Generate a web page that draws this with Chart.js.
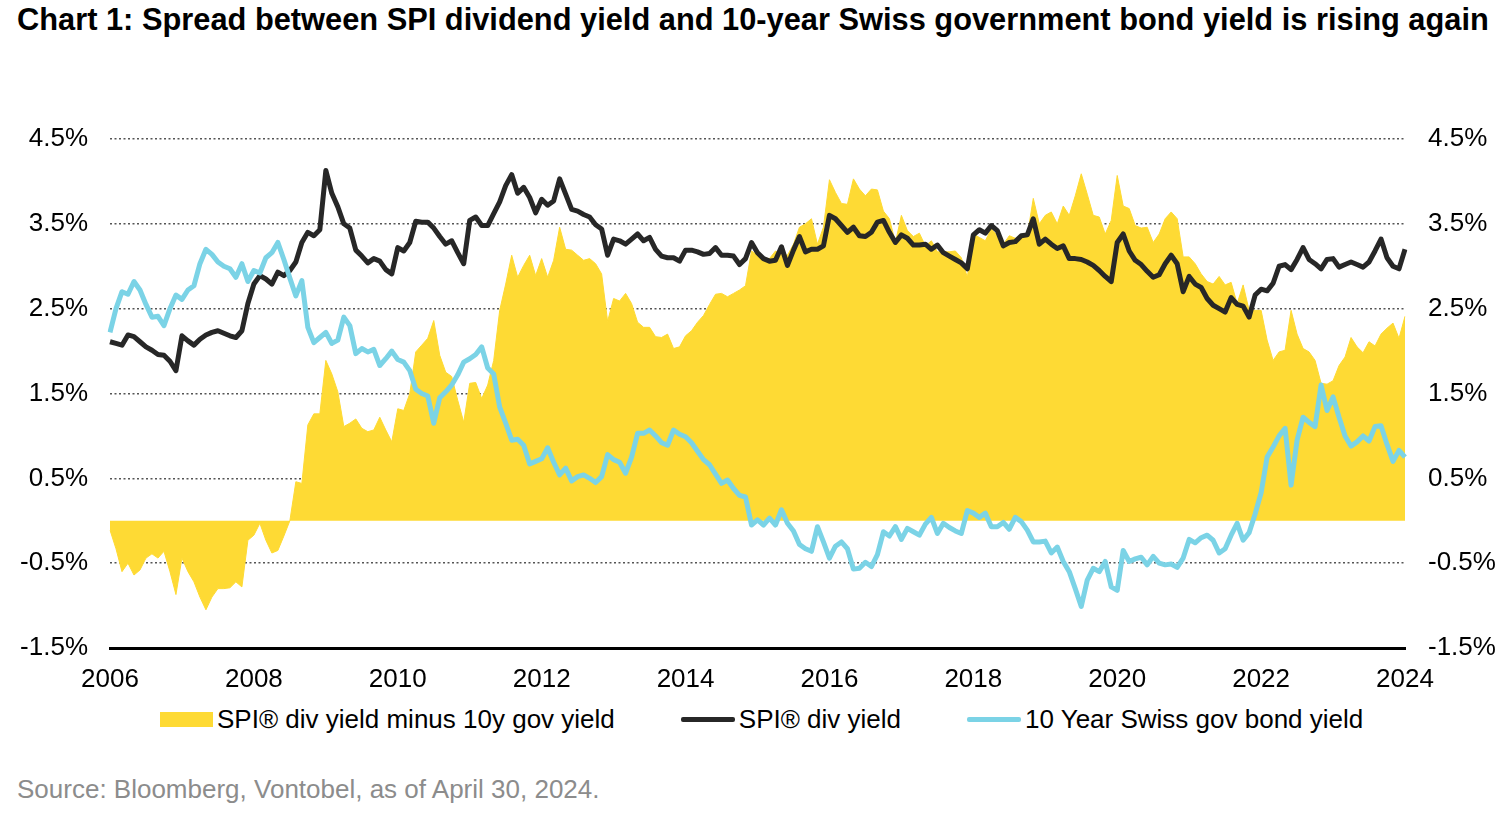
<!DOCTYPE html>
<html>
<head>
<meta charset="utf-8">
<script src="https://cdn.jsdelivr.net/npm/chart.js@4.4.1/dist/chart.umd.min.js"></script>
<style>
  html, body { margin: 0; padding: 0; background: #fff; }
  body { width: 1500px; height: 819px; position: relative; overflow: hidden; font-family: 'Liberation Sans', Arial, sans-serif; }
  #title { position: absolute; left: 17px; top: 0; font-weight: bold; font-size: 30.8px; line-height: 40px; color: #000; white-space: nowrap; }
  #wrap { position: absolute; left: 0; top: 0; width: 1500px; height: 700px; }
  #legend { position: absolute; left: 160px; top: 704px; height: 30px; display: flex; align-items: center; font-size: 26px; line-height: 30px; white-space: nowrap; color: #000; }
  .item { display: flex; align-items: center; margin-right: 66px; }
  .mark { display: inline-block; margin-right: 4px; }
  #source { position: absolute; left: 17px; top: 774px; font-size: 26px; line-height: 30px; color: #8c8c8c; white-space: nowrap; }
</style>
</head>
<body>
<div id="title">Chart 1: Spread between SPI dividend yield and 10-year Swiss government bond yield is rising again</div>
<div id="wrap"><canvas id="spreadChart"></canvas></div>
<div id="legend"></div>
<div id="source">Source: Bloomberg, Vontobel, as of April 30, 2024.</div>
<script>
// monthly observations, Jan 2006 .. Jan 2024
const months = [];
for (let y = 2006; y <= 2024; y++) {
  for (let m = 1; m <= 12; m++) {
    if (y === 2024 && m > 1) break;
    months.push(y + '-' + String(m).padStart(2, '0'));
  }
}

const yearTicks = ['2006', '2008', '2010', '2012', '2014', '2016', '2018', '2020', '2022', '2024'];
const yTicks = [-1.5, -0.5, 0.5, 1.5, 2.5, 3.5, 4.5];

// SPI dividend yield minus 10y gov yield (%)
const spread = [
  -0.11, -0.33, -0.60, -0.50, -0.64, -0.58, -0.44, -0.39, -0.44, -0.36, -0.60, -0.87,
  -0.44, -0.60, -0.72, -0.90, -1.05, -0.90, -0.80, -0.80, -0.79, -0.72, -0.78, -0.23,
  -0.17, -0.03, -0.23, -0.38, -0.35, -0.18, 0.00, 0.46, 0.44, 1.13, 1.26, 1.26,
  1.89, 1.73, 1.52, 1.11, 1.15, 1.20, 1.09, 1.05, 1.07, 1.22, 1.07, 0.93,
  1.32, 1.30, 1.50, 1.99, 2.07, 2.15, 2.36, 1.95, 1.75, 1.70, 1.42, 1.16,
  1.62, 1.63, 1.44, 1.60, 1.89, 2.48, 2.79, 3.13, 2.87, 3.01, 3.13, 2.89,
  3.09, 2.87, 3.07, 3.46, 3.20, 3.19, 3.13, 3.07, 3.09, 3.03, 2.91, 2.35,
  2.62, 2.59, 2.68, 2.56, 2.34, 2.28, 2.28, 2.17, 2.16, 2.20, 2.03, 2.05,
  2.18, 2.24, 2.34, 2.42, 2.55, 2.67, 2.68, 2.64, 2.68, 2.72, 2.77, 3.18,
  3.13, 3.10, 3.09, 3.18, 3.15, 3.13, 3.26, 3.46, 3.50, 3.56, 3.26, 3.46,
  4.02, 3.87, 3.74, 3.73, 4.03, 3.91, 3.83, 3.91, 3.90, 3.65, 3.56, 3.28,
  3.60, 3.42, 3.35, 3.39, 3.24, 3.30, 3.17, 3.17, 3.17, 3.18, 3.10, 2.87,
  3.38, 3.34, 3.30, 3.44, 3.36, 3.26, 3.36, 3.33, 3.34, 3.36, 3.80, 3.50,
  3.60, 3.64, 3.50, 3.71, 3.60, 3.83, 4.09, 3.85, 3.60, 3.58, 3.38, 3.54,
  4.07, 3.71, 3.68, 3.48, 3.45, 3.46, 3.28, 3.38, 3.56, 3.64, 3.56, 3.11,
  3.11, 3.03, 2.91, 2.82, 2.79, 2.88, 2.78, 2.81, 2.56, 2.78, 2.48, 2.48,
  2.48, 2.13, 1.89, 1.99, 2.01, 2.48, 2.20, 2.03, 1.99, 1.89, 1.62, 1.61,
  1.65, 1.83, 1.93, 2.16, 2.05, 1.98, 2.11, 2.06, 2.20, 2.27, 2.33, 2.15,
  2.41
];

// SPI dividend yield (%)
const divYield = [
  2.11, 2.09, 2.07, 2.19, 2.17, 2.11, 2.05, 2.01, 1.96, 1.95, 1.88, 1.77,
  2.18, 2.12, 2.07, 2.14, 2.19, 2.22, 2.24, 2.21, 2.18, 2.16, 2.24, 2.56,
  2.79, 2.89, 2.85, 2.79, 2.93, 2.89, 2.95, 3.05, 3.28, 3.40, 3.36, 3.43,
  4.13, 3.86, 3.70, 3.50, 3.45, 3.19, 3.12, 3.04, 3.09, 3.06, 2.96, 2.91,
  3.22, 3.18, 3.28, 3.53, 3.52, 3.52, 3.45, 3.35, 3.26, 3.30, 3.16, 3.03,
  3.54, 3.58, 3.48, 3.48, 3.62, 3.76, 3.95, 4.08, 3.86, 3.93, 3.81, 3.63,
  3.79, 3.72, 3.77, 4.03, 3.85, 3.67, 3.65, 3.61, 3.58, 3.49, 3.44, 3.13,
  3.32, 3.30, 3.26, 3.32, 3.38, 3.30, 3.34, 3.20, 3.12, 3.10, 3.10, 3.06,
  3.19, 3.19, 3.17, 3.14, 3.15, 3.22, 3.13, 3.13, 3.12, 3.02, 3.09, 3.28,
  3.16, 3.09, 3.06, 3.07, 3.23, 3.01, 3.19, 3.35, 3.17, 3.20, 3.20, 3.24,
  3.60, 3.56, 3.48, 3.40, 3.46, 3.36, 3.35, 3.40, 3.52, 3.54, 3.40, 3.28,
  3.37, 3.33, 3.25, 3.25, 3.26, 3.20, 3.25, 3.16, 3.12, 3.08, 3.04, 2.97,
  3.37, 3.43, 3.39, 3.48, 3.42, 3.24, 3.28, 3.29, 3.36, 3.37, 3.56, 3.26,
  3.32, 3.26, 3.21, 3.24, 3.09, 3.09, 3.08, 3.05, 3.01, 2.95, 2.88, 2.82,
  3.28, 3.38, 3.18, 3.07, 3.02, 2.94, 2.87, 2.90, 3.03, 3.13, 3.03, 2.70,
  2.88, 2.79, 2.75, 2.62, 2.54, 2.50, 2.46, 2.63, 2.55, 2.53, 2.40, 2.66,
  2.73, 2.71, 2.80, 3.00, 3.02, 2.96, 3.08, 3.22, 3.08, 3.03, 2.97, 3.08,
  3.09, 2.99, 3.02, 3.05, 3.02, 2.99, 3.05, 3.18, 3.32, 3.10, 3.00, 2.97,
  3.20
];

// 10 year Swiss government bond yield (%)
const bondYield = [
  2.22, 2.50, 2.70, 2.67, 2.82, 2.72, 2.55, 2.40, 2.41, 2.30, 2.50, 2.66,
  2.61, 2.72, 2.77, 3.03, 3.20, 3.14, 3.05, 3.00, 2.97, 2.87, 3.03, 2.82,
  2.95, 2.92, 3.10, 3.16, 3.28, 3.08, 2.86, 2.65, 2.83, 2.28, 2.10, 2.16,
  2.22, 2.09, 2.13, 2.40, 2.30, 1.97, 2.03, 1.99, 2.02, 1.83, 1.91, 2.00,
  1.90, 1.87, 1.77, 1.55, 1.50, 1.47, 1.15, 1.45, 1.52, 1.60, 1.72, 1.87,
  1.91, 1.96, 2.05, 1.80, 1.73, 1.34, 1.15, 0.95, 0.96, 0.89, 0.67, 0.70,
  0.73, 0.86, 0.69, 0.54, 0.62, 0.47, 0.52, 0.54, 0.50, 0.45, 0.52, 0.78,
  0.72, 0.69, 0.56, 0.75, 1.03, 1.03, 1.07, 1.00, 0.92, 0.89, 1.07, 1.02,
  0.99, 0.92, 0.82, 0.72, 0.66, 0.55, 0.44, 0.48, 0.38, 0.30, 0.28, -0.05,
  0.01, -0.05, 0.03, -0.05, 0.13, -0.03, -0.12, -0.28, -0.33, -0.36, -0.07, -0.25,
  -0.44, -0.30, -0.25, -0.33, -0.57, -0.56, -0.49, -0.54, -0.40, -0.13, -0.18, -0.07,
  -0.22, -0.09, -0.13, -0.17, -0.04, 0.04, -0.15, -0.03, -0.08, -0.12, -0.15, 0.12,
  0.09, 0.04, 0.09, -0.07, -0.07, -0.02, -0.10, 0.04, -0.01, -0.11, -0.25, -0.25,
  -0.24, -0.38, -0.31, -0.48, -0.60, -0.80, -1.01, -0.70, -0.56, -0.60, -0.48, -0.78,
  -0.82, -0.35, -0.48, -0.45, -0.43, -0.52, -0.42, -0.50, -0.52, -0.51, -0.55, -0.44,
  -0.22, -0.26, -0.20, -0.17, -0.23, -0.38, -0.33, -0.17, -0.03, -0.23, -0.14, 0.08,
  0.33, 0.75, 0.87, 1.00, 1.09, 0.42, 0.95, 1.22, 1.16, 1.11, 1.60, 1.30,
  1.46, 1.22, 1.00, 0.88, 0.93, 1.00, 0.94, 1.11, 1.12, 0.90, 0.70, 0.83,
  0.75
];

const FONT = "'Liberation Sans', Arial, sans-serif";
const YELLOW = '#FEDA34';
const BLACK = '#272727';
const BLUE = '#7BD3E6';

const pctLabel = v => v.toFixed(1) + '%';
const setYTicks = scale => { scale.ticks = yTicks.map(v => ({ value: v })); };

const chart = new Chart(document.getElementById('spreadChart'), {
  type: 'line',
  data: {
    labels: months,
    datasets: [
      {
        label: 'SPI® div yield minus 10y gov yield',
        data: spread,
        fill: 'origin',
        backgroundColor: YELLOW,
        borderColor: YELLOW,
        borderWidth: 1,
        pointRadius: 0,
        order: 3
      },
      {
        label: 'SPI® div yield',
        data: divYield,
        fill: false,
        borderColor: BLACK,
        borderWidth: 5,
        borderJoinStyle: 'round',
        pointRadius: 0,
        order: 2
      },
      {
        label: '10 Year Swiss gov bond yield',
        data: bondYield,
        fill: false,
        borderColor: BLUE,
        borderWidth: 5,
        borderJoinStyle: 'round',
        pointRadius: 0,
        order: 1
      }
    ]
  },
  options: {
    responsive: true,
    maintainAspectRatio: false,
    animation: false,
    layout: { padding: { top: 139, left: 0, right: 0, bottom: 0 } },
    plugins: {
      legend: { display: false },
      tooltip: { enabled: false }
    },
    scales: {
      x: {
        type: 'category',
        grid: { display: false, drawTicks: false },
        border: { display: true, color: '#000', width: 3 },
        ticks: {
          autoSkip: false,
          maxRotation: 0,
          minRotation: 0,
          padding: 16,
          color: '#000',
          font: { family: FONT, size: 26 },
          callback: function (value) {
            const m = this.getLabelForValue(value);
            const yr = m.slice(0, 4);
            return m.endsWith('-01') && yearTicks.includes(yr) ? yr : '';
          }
        },
        afterFit: s => { s.height = 52; }
      },
      y: {
        position: 'left',
        min: -1.5,
        max: 4.5,
        grid: { color: '#555', lineWidth: 1.5, drawTicks: false },
        border: { display: false, dash: [2, 2.5] },
        ticks: { padding: 22, color: '#000', font: { family: FONT, size: 26 }, callback: pctLabel },
        afterBuildTicks: setYTicks,
        afterFit: s => { s.width = 110; }
      },
      y2: {
        position: 'right',
        min: -1.5,
        max: 4.5,
        grid: { display: false, drawTicks: false },
        border: { display: false },
        ticks: { padding: 23, color: '#000', font: { family: FONT, size: 26 }, callback: pctLabel },
        afterBuildTicks: setYTicks,
        afterFit: s => { s.width = 95; }
      }
    }
  }
});

// legend below the chart
const legendEl = document.getElementById('legend');
chart.data.datasets.forEach(ds => {
  const item = document.createElement('div');
  item.className = 'item';
  const mark = document.createElement('span');
  mark.className = 'mark';
  if (ds.fill) {
    mark.style.width = '53px';
    mark.style.height = '15px';
    mark.style.background = ds.backgroundColor;
  } else {
    mark.style.width = '54px';
    mark.style.height = '5px';
    mark.style.borderRadius = '2px';
    mark.style.background = ds.borderColor;
  }
  const txt = document.createElement('span');
  txt.textContent = ds.label;
  item.appendChild(mark);
  item.appendChild(txt);
  legendEl.appendChild(item);
});
</script>
</body>
</html>
